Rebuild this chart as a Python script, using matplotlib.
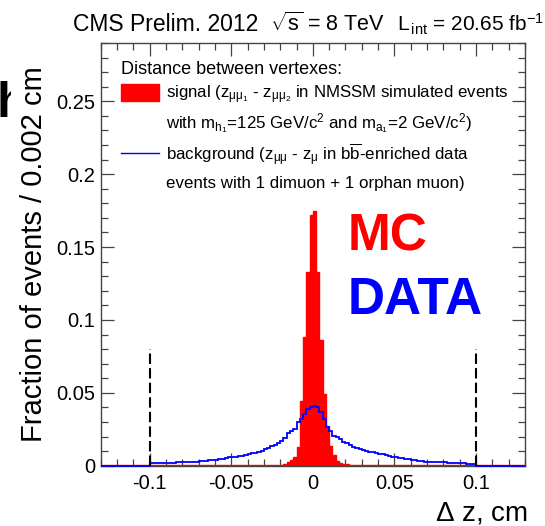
import numpy as np
import matplotlib
matplotlib.use("Agg")
import matplotlib.pyplot as plt
from matplotlib.patches import Patch
from matplotlib.lines import Line2D
from matplotlib.ticker import MultipleLocator, FixedLocator, FuncFormatter
from matplotlib.transforms import Bbox

plt.rcParams['font.family'] = ['Liberation Sans', 'DejaVu Sans']
plt.rcParams['mathtext.fontset'] = 'custom'
plt.rcParams['mathtext.rm'] = 'Liberation Sans'
plt.rcParams['mathtext.it'] = 'Liberation Sans'
plt.rcParams['mathtext.bf'] = 'Liberation Sans:bold'
plt.rcParams['mathtext.sf'] = 'Liberation Sans'

# histogram binning: 0.002 cm bins from -0.13 to 0.13
edges = np.linspace(-0.13, 0.13, 131)

# signal (MC), 130 bins, rows of 10
signal = [
    0.0003, 0.0002, 0.0004, 0.0003, 0.0002, 0.0005, 0.0003, 0.0002, 0.0003, 0.0004,
    0.0003, 0.0002, 0.0003, 0.0004, 0.0003, 0.0002, 0.0004, 0.0003, 0.0003, 0.0004,
    0.0003, 0.0004, 0.0003, 0.0002, 0.0004, 0.0003, 0.0004, 0.0003, 0.0004, 0.0003,
    0.0004, 0.0003, 0.0004, 0.0004, 0.0003, 0.0004, 0.0005, 0.0004, 0.0004, 0.0005,
    0.0004, 0.0005, 0.0004, 0.0005, 0.0005, 0.0006, 0.0005, 0.0006, 0.0007, 0.0006,
    0.0005, 0.0005, 0.0006, 0.0006, 0.0008, 0.0008, 0.0013, 0.0023, 0.0040, 0.0062,
    0.0126, 0.0446, 0.0880, 0.1330, 0.1720, 0.1750, 0.1330, 0.0860, 0.0490, 0.0270,
    0.0135, 0.0075, 0.0035, 0.0022, 0.0014, 0.0010, 0.0008, 0.0007, 0.0006, 0.0005,
    0.0005, 0.0006, 0.0005, 0.0004, 0.0005, 0.0004, 0.0004, 0.0005, 0.0004, 0.0004,
    0.0004, 0.0003, 0.0004, 0.0004, 0.0003, 0.0004, 0.0003, 0.0004, 0.0003, 0.0003,
    0.0003, 0.0004, 0.0003, 0.0003, 0.0002, 0.0003, 0.0004, 0.0003, 0.0003, 0.0002,
    0.0003, 0.0002, 0.0003, 0.0004, 0.0003, 0.0002, 0.0003, 0.0003, 0.0002, 0.0003,
    0.0002, 0.0003, 0.0004, 0.0002, 0.0003, 0.0003, 0.0005, 0.0002, 0.0003, 0.0002,
]

# background (data), 130 bins, zero outside |dz| < 0.1
background = [
    0, 0, 0, 0, 0, 0, 0, 0, 0, 0,
    0, 0, 0, 0, 0, 0.0016, 0.0017, 0.0018, 0.0019, 0.0020,
    0.0021, 0.0022, 0.0022, 0.0023, 0.0023, 0.0024, 0.0025, 0.0026, 0.0026, 0.0027,
    0.0029, 0.0031, 0.0034, 0.0036, 0.0039, 0.0042, 0.0045, 0.0049, 0.0053, 0.0057,
    0.0060, 0.0063, 0.0066, 0.0070, 0.0074, 0.0079, 0.0084, 0.0090, 0.0096, 0.0103,
    0.0112, 0.0122, 0.0133, 0.0142, 0.0153, 0.0172, 0.0190, 0.0222, 0.0240, 0.0250,
    0.0297, 0.0320, 0.0355, 0.0390, 0.0405, 0.0408, 0.0405, 0.0366, 0.0320, 0.0263,
    0.0240, 0.0206, 0.0200, 0.0183, 0.0165, 0.0158, 0.0140, 0.0130, 0.0124, 0.0115,
    0.0110, 0.0103, 0.0097, 0.0092, 0.0086, 0.0081, 0.0077, 0.0071, 0.0066, 0.0061,
    0.0057, 0.0054, 0.0051, 0.0047, 0.0044, 0.0040, 0.0037, 0.0034, 0.0031, 0.0028,
    0.0027, 0.0026, 0.0025, 0.0024, 0.0024, 0.0023, 0.0022, 0.0021, 0.0020, 0.0019,
    0.0017, 0.0016, 0.0015, 0.0014, 0.0013, 0, 0, 0, 0, 0,
    0, 0, 0, 0, 0, 0, 0, 0, 0, 0,
]

cut_x = [-0.1, 0.1]
cut_height = 0.08

xtick_vals = [-0.1, -0.05, 0, 0.05, 0.1]
ytick_vals = [0, 0.05, 0.1, 0.15, 0.2, 0.25]

fig = plt.figure(figsize=(5.45, 5.26), dpi=100)
ax = fig.add_axes([0.1848, 0.1146, 0.7785, 0.8037])

ax.stairs(signal, edges, fill=True, facecolor='red', edgecolor='red', lw=1, zorder=2)
ax.stairs(background, edges, color='blue', lw=1.3, zorder=3, clip_on=False)
ax.vlines(cut_x, 0, cut_height, colors='black', lw=1.5, linestyles=(0, (5, 2)), zorder=4)

ax.set_xlim(-0.13, 0.13)
ax.set_ylim(0, 0.29)

fmt = FuncFormatter(lambda v, p: '%g' % v)
ax.xaxis.set_major_locator(FixedLocator(xtick_vals))
ax.yaxis.set_major_locator(FixedLocator(ytick_vals))
ax.xaxis.set_major_formatter(fmt)
ax.yaxis.set_major_formatter(fmt)
ax.xaxis.set_minor_locator(MultipleLocator(0.01))
ax.yaxis.set_minor_locator(MultipleLocator(0.01))
ax.tick_params(which='both', direction='in', top=True, right=True, colors='#444444',
               labelcolor='black', width=0.9)
ax.tick_params(which='major', length=9.4, labelsize=14.5)
ax.tick_params(axis='x', which='major', pad=6)
ax.tick_params(axis='y', which='major', pad=4)
ax.tick_params(which='minor', length=4.7)
for s in ax.spines.values():
    s.set_color('#444444')
    s.set_linewidth(1.0)

ax.set_xlabel(r'$\Delta$ z, cm', fontsize=20, loc='right')
ax.xaxis.set_label_coords(1.007, -0.083)
ax.set_ylabel('Fraction of events / 0.002 cm', fontsize=21)
ax.yaxis.set_label_coords(-0.125, 0.50)

handles = [
    Patch(facecolor='red', edgecolor='red'),
    Line2D([], [], color='none'),
    Line2D([], [], color='blue', lw=1),
    Line2D([], [], color='none'),
]
labels = [
    r'signal (z$_{\mu\mu_{1}}$ - z$_{\mu\mu_{2}}$ in NMSSM simulated events',
    r'with m$_{h_{1}}$=125 GeV/c$^{2}$ and m$_{a_{1}}$=2 GeV/c$^{2}$)',
    r'background (z$_{\mu\mu}$ - z$_{\mu}$ in b$\overline{\mathrm{b}}$-enriched data',
    'events with 1 dimuon + 1 orphan muon)',
]
leg = ax.legend(handles, labels, title='Distance between vertexes:', loc='upper left',
                bbox_to_anchor=(0.047, 0.958), frameon=False, fontsize=12.2,
                title_fontsize=13, alignment='left', handlelength=2.25,
                handletextpad=0.45, handleheight=1.2, labelspacing=0.33,
                borderpad=0, borderaxespad=0)

ax.text(0.583, 0.51, 'MC', transform=ax.transAxes, color='red', fontsize=37,
        fontweight='bold', va='baseline')
ax.text(0.583, 0.360, 'DATA', transform=ax.transAxes, color='blue', fontsize=37,
        fontweight='bold', va='baseline')

# header line above the frame
fig.text(73 / 545, 0.941, 'CMS Prelim. 2012', fontsize=16.5, va='baseline')
fig.text(270 / 545, 0.941, r'$\sqrt{s}$ = 8 TeV', fontsize=15.5, va='baseline')
fig.text(397 / 545, 0.941, r'L$_{\,int}$ = 20.65 fb$^{-1}$', fontsize=15, va='baseline')

# cropped glyph at the left edge
t = fig.text(-3.6 / 545, (526 - 117) / 526, 'h', fontsize=36, fontweight='bold',
             va='baseline')
t.set_clip_box(Bbox.from_extents(0, 0, 11, 526))
t.set_clip_on(True)

fig.savefig('out.png', dpi=100)
